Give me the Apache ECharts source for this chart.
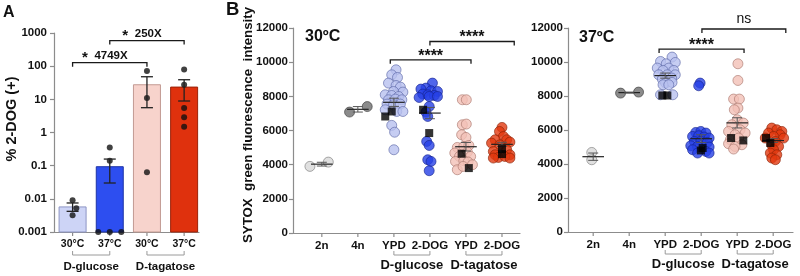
<!DOCTYPE html>
<html><head><meta charset="utf-8">
<script src="https://cdn.jsdelivr.net/npm/echarts@6/dist/echarts.min.js"></script>
<style>html,body{margin:0;padding:0;background:#fff}#c{width:800px;height:276px}</style>
</head><body><div id="c"></div>
<script>
// ---------- Panel A data ----------
const catsA = ['30°C', '37°C', '30°C', '37°C'];
const groupsA = [[1, 2, 'D-glucose'], [3, 4, 'D-tagatose']];
const barA = [0.0057, 0.093, 27.5, 23.4];
const errLowA = [0.0042, 0.030, 5.6, 8.9];
const errHighA = [0.0075, 0.158, 48, 39];
// [bar, x offset, value]
const dotsA = [[1, 0, 0.0091], [1, 0.1, 0.0052], [1, 0, 0.0032],
  [2, 0, 0.35], [2, 0, 0.14], [2, -0.31, 0.001], [2, 0, 0.001], [2, 0.31, 0.001],
  [3, 0, 71], [3, 0, 11], [3, 0, 0.063],
  [4, 0, 80], [4, 0, 27.5], [4, 0, 5.5], [4, 0, 2.9], [4, 0, 1.5]];
const bracketsA = [[1, 3, 127, '4749X'], [2, 4, 590, '250X']];

// ---------- Panel B data ----------
const catsB = ['2n', '4n', 'YPD', '2-DOG', 'YPD', '2-DOG'];
const groupsB = [[3, 4, 'D-glucose'], [5, 6, 'D-tagatose']];
// 30 °C : [x offset, value]
const g2n30 = [[-0.33, 3900], [0.18, 4150]];
const g4n30 = [[-0.23, 7080], [0.26, 7400]];
const ypdGlu30 = [[0.06, 9553], [-0.06, 9260], [0.1, 9103], [-0.15, 8775], [0.06, 8635], [0.18, 8541], [0.25, 8249], [-0.01, 8284], [-0.24, 8090], [-0.06, 8050], [0.13, 7991], [-0.15, 7798], [0.04, 7839], [0.22, 7798], [-0.19, 7546], [-0.01, 7506], [0.18, 7546], [-0.24, 7213], [0.08, 7114], [0.25, 7114], [-0.06, 6300], [0.02, 5900], [0, 4873]];
const dogGlu30 = [[0.07, 8775], [-0.11, 8483], [-0.25, 8424], [0.03, 8325], [0.21, 8284], [-0.2, 8132], [-0.06, 8090], [0.12, 8050], [-0.3, 7933], [-0.02, 7991], [0.21, 7991], [-0.02, 7406], [-0.11, 7078], [-0.06, 6821], [-0.09, 5360], [-0.02, 5125], [-0.06, 4288], [0.03, 4190], [-0.02, 3645]];
const ypdTag30 = [[-0.1, 7800], [0.01, 7800], [-0.1, 6335], [0.01, 6377], [-0.12, 5750], [0, 5594], [-0.24, 5008], [-0.06, 5066], [0.08, 5125], [-0.31, 4680], [0.04, 4740], [-0.18, 4480], [0.13, 4480], [-0.29, 4190], [-0.06, 4230], [0.06, 4153], [-0.24, 3703], [-0.08, 3896], [0.18, 3995]];
const dogTag30 = [[0, 6180], [-0.07, 5945], [0.04, 5650], [-0.19, 5458], [0.13, 5458], [-0.29, 5265], [0.22, 5323], [-0.06, 5165], [-0.24, 4773], [0.13, 4873], [-0.19, 4580], [0.22, 4580], [-0.1, 4422], [0.08, 4480], [0.22, 4387], [-0.24, 4387]];
const squares30 = [[3, -0.24, 6820], [3, -0.06, 7114], [4, -0.19, 7213], [4, -0.02, 5850], [5, -0.12, 4640], [5, 0.08, 3800], [6, 0, 4914], [6, 0, 4620]];
const mean30 = [4030, 7240, 7650, 7020, 5050, 5190];
const sem30 = [110, 160, 240, 330, 250, 120];
const brackets30 = [[2.9, 5.14, 10140, '****'], [4.0, 6.34, 11210, '****']];
// 37 °C
const g2n37 = [[-0.04, 4680], [-0.04, 4250]];
const g4n37 = [[-0.24, 8170], [0.26, 8230]];
const ypdGlu37 = [[-0.13, 10031], [0.19, 10290], [0.03, 9896], [0.28, 9973], [-0.22, 9643], [0.1, 9643], [-0.06, 9502], [0.24, 9502], [-0.18, 9249], [0.06, 9249], [0.28, 9249], [-0.08, 8996], [0.18, 9055], [0.01, 8761], [0.19, 8800], [-0.06, 8661], [0.1, 8661], [0.21, 8073], [-0.13, 8073]];
const dogGlu37 = [[-0.03, 8761], [-0.07, 8602], [-0.15, 5857], [-0.01, 5916], [0.13, 5821], [-0.24, 5621], [-0.07, 5662], [0.08, 5586], [0.22, 5527], [-0.19, 5327], [-0.01, 5327], [0.17, 5268], [-0.29, 5074], [-0.1, 5033], [0.22, 4998], [-0.24, 4839], [0.13, 4739], [-0.1, 4645], [0.22, 4645]];
const ypdTag37 = [[0.02, 9896], [0.02, 8914], [-0.1, 7820], [0.06, 7820], [0.02, 7291], [-0.08, 7191], [0, 6603], [-0.15, 6309], [0.17, 6409], [-0.24, 5915], [0.08, 6015], [-0.06, 5721], [0.22, 5821], [-0.19, 5427], [0.04, 5527], [-0.24, 5192], [0.13, 5133], [-0.06, 5033], [-0.1, 4880]];
const dogTag37 = [[-0.04, 6115], [0.1, 6015], [0.24, 5915], [-0.13, 5821], [0.19, 5721], [0.01, 5621], [-0.22, 5527], [0.29, 5527], [0.06, 5327], [-0.04, 5133], [0.15, 5033], [0.01, 4839], [-0.08, 4645], [0.1, 4545], [-0.04, 4351], [0.06, 4251]];
const squares37 = [[3, -0.08, 8032], [3, 0.06, 8032], [4, 0.04, 4939], [4, -0.01, 4798], [5, -0.17, 5527], [5, 0.17, 5386], [6, -0.2, 5527], [6, -0.08, 5233]];
const mean37 = [4430, 8200, 9200, 5490, 6420, 5380];
const sem37 = [215, 30, 150, 230, 300, 110];
const brackets37 = [[2.83, 5.19, 10760, '****'], [4.02, 6.35, 11940, 'ns']];

// ---------- styles ----------
const FONT = '"Liberation Sans", Arial, Helvetica, sans-serif';
const AXC = '#8c8c8c';
const barFill = ['#cdd4f6', '#2d4ef0', '#f7d3cc', '#df310d'];
const barStroke = ['#8d95c4', '#1d33a6', '#c29a92', '#9a2208'];
const ptFill = ['#d8d8d8', '#6e6e6e', '#b8c1ef', '#2540e6', '#f3c0b7', '#e2380f'];
const ptStroke = ['#7a7a7a', '#3c3c3c', '#5c66a6', '#16228c', '#a8766c', '#8a2307'];

const chart = echarts.init(document.getElementById('c'));

function catFormatter(cats) {
  return function (v) {
    const r = Math.round(v);
    return (Math.abs(v - r) < 1e-6 && r >= 1 && r <= cats.length) ? cats[r - 1] : '';
  };
}
function xAx(gi, min, max, cats, fs) {
  return {
    type: 'value', gridIndex: gi, min: min, max: max, interval: 0.1,
    axisLine: { show: true, onZero: false, lineStyle: { color: AXC, width: 1.2 } },
    axisTick: { show: false }, splitLine: { show: false },
    axisLabel: { formatter: catFormatter(cats), color: '#111', fontWeight: 'bold', fontSize: fs, fontFamily: FONT, margin: 7 }
  };
}
function yAxB(gi) {
  return {
    type: 'value', gridIndex: gi, min: 0, max: 12000, interval: 2000,
    axisLine: { show: true, lineStyle: { color: AXC, width: 1.2 } },
    axisTick: { show: true, length: 4, lineStyle: { color: AXC, width: 1.2 } },
    splitLine: { show: false },
    axisLabel: { color: '#111', fontWeight: 'bold', fontSize: 11.5, fontFamily: FONT, margin: 5, formatter: v => String(Math.round(v)) }
  };
}

function catTickSeries(ax, cats, yMin) {
  return {
    type: 'custom', xAxisIndex: ax, yAxisIndex: ax, clip: false, silent: true, z: 1,
    data: cats.map((c, i) => [i + 1, yMin]), encode: { x: 0, y: 1 },
    renderItem: function (params, api) {
      const p = api.coord([api.value(0), api.value(1)]);
      return { type: 'line', shape: { x1: p[0], y1: p[1], x2: p[0], y2: p[1] + 4 }, style: { stroke: AXC, lineWidth: 1.2 } };
    }
  };
}
function groupSeries(ax, groups, yMin, dy1, dy2, fs) {
  return {
    type: 'custom', xAxisIndex: ax, yAxisIndex: ax, clip: false, silent: true, z: 1,
    data: groups.map(g => [g[0], yMin]), encode: { x: 0, y: 1 },
    renderItem: function (params, api) {
      const g = groups[params.dataIndex];
      const p1 = api.coord([g[0], yMin]), p2 = api.coord([g[1], yMin]);
      const y = p1[1] + dy1;
      return { type: 'group', children: [
        { type: 'polyline', shape: { points: [[p1[0], y - 4], [p1[0], y], [p2[0], y], [p2[0], y - 4]] }, style: { stroke: '#9a9a9a', lineWidth: 1, fill: null } },
        { type: 'text', x: (p1[0] + p2[0]) / 2, y: p1[1] + dy2, style: { text: g[2], align: 'center', verticalAlign: 'middle', fontSize: fs, fontWeight: 'bold', fontFamily: FONT, fill: '#111' } }
      ] };
    }
  };
}
function bracketSeries(ax, list, rich) {
  return {
    type: 'custom', xAxisIndex: ax, yAxisIndex: ax, clip: false, silent: true, z: 5,
    data: list.map(b => [b[0], b[2]]), encode: { x: 0, y: 1 },
    renderItem: function (params, api) {
      const b = list[params.dataIndex];
      const p1 = api.coord([b[0], b[2]]), p2 = api.coord([b[1], b[2]]);
      const cx = (p1[0] + p2[0]) / 2;
      let txt;
      if (rich) {
        txt = { type: 'text', x: cx - 5, y: p1[1] - 7, style: { text: '{s|*}  {n|' + b[3] + '}', align: 'center', verticalAlign: 'middle',
          rich: { s: { fontSize: 15, fontWeight: 'bold', fontFamily: FONT, fill: '#111', padding: [5, 0, 0, 0] }, n: { fontSize: 11.5, fontWeight: 'bold', fontFamily: FONT, fill: '#111' } } } };
      } else {
        const ns = b[3] === 'ns';
        txt = { type: 'text', x: cx, y: p1[1] - (ns ? 9.5 : 3.5), style: { text: b[3], align: 'center', verticalAlign: 'middle', fontSize: ns ? 14 : 16, fontWeight: ns ? 'normal' : 'bold', fontFamily: FONT, fill: '#111' } };
      }
      return { type: 'group', children: [
        { type: 'polyline', shape: { points: [[p1[0], p1[1] + 4], [p1[0], p1[1]], [p2[0], p2[1]], [p2[0], p2[1] + 4]] }, style: { stroke: '#1a1a1a', lineWidth: 1.3, fill: null } },
        txt
      ] };
    }
  };
}
function meanSeries(ax, means, sems) {
  return {
    type: 'custom', xAxisIndex: ax, yAxisIndex: ax, clip: false, silent: true, z: 3,
    data: means.map((m, i) => [i + 1, m, sems[i]]), encode: { x: 0, y: 1 },
    renderItem: function (params, api) {
      const x = api.value(0), m = api.value(1), s = api.value(2);
      const a = api.coord([x - 0.3, m]), b = api.coord([x + 0.3, m]);
      const hi = api.coord([x, m + s]), lo = api.coord([x, m - s]);
      const cw = 5;
      return { type: 'group', children: [
        { type: 'line', shape: { x1: a[0], y1: a[1], x2: b[0], y2: b[1] }, style: { stroke: '#222', lineWidth: 1.2 } },
        { type: 'line', shape: { x1: hi[0], y1: hi[1], x2: lo[0], y2: lo[1] }, style: { stroke: '#555', lineWidth: 1 } },
        { type: 'line', shape: { x1: hi[0] - cw, y1: hi[1], x2: hi[0] + cw, y2: hi[1] }, style: { stroke: '#555', lineWidth: 1 } },
        { type: 'line', shape: { x1: lo[0] - cw, y1: lo[1], x2: lo[0] + cw, y2: lo[1] }, style: { stroke: '#555', lineWidth: 1 } }
      ] };
    }
  };
}
function panelB(ax, groups, squares, means, sems, brackets) {
  const s = [];
  groups.forEach((g, i) => {
    s.push({ type: 'scatter', xAxisIndex: ax, yAxisIndex: ax, clip: false, silent: true, z: 2,
      symbol: 'circle', symbolSize: 10,
      itemStyle: { color: ptFill[i], borderColor: ptStroke[i], borderWidth: 0.8 },
      data: g.map(p => [i + 1 + p[0], p[1]]) });
  });
  s.push(meanSeries(ax, means, sems));
  s.push({ type: 'scatter', xAxisIndex: ax, yAxisIndex: ax, clip: false, silent: true, z: 4,
    symbol: 'rect', symbolSize: 8, itemStyle: { color: '#000' },
    data: squares.map(q => [q[0] + q[1], q[2]]) });
  s.push(bracketSeries(ax, brackets, false));
  s.push(catTickSeries(ax, catsB, 0));
  s.push(groupSeries(ax, groupsB, 0, 22, 32, 13));
  return s;
}

const series = [
  { type: 'custom', xAxisIndex: 0, yAxisIndex: 0, clip: false, silent: true, z: 2,
    data: barA.map((v, i) => [i + 1, v]), encode: { x: 0, y: 1 },
    renderItem: function (params, api) {
      const i = params.dataIndex, x = api.value(0), v = api.value(1);
      const t = api.coord([x - 0.363, v]), b = api.coord([x + 0.363, 0.001]);
      return { type: 'rect', shape: { x: t[0], y: t[1], width: b[0] - t[0], height: b[1] - t[1] },
        style: { fill: barFill[i], stroke: barStroke[i], lineWidth: 1 } };
    } },
  { type: 'scatter', xAxisIndex: 0, yAxisIndex: 0, clip: false, silent: true, z: 3,
    symbol: 'circle', symbolSize: 6, itemStyle: { color: '#111' },
    data: dotsA.map(d => [d[0] + d[1], d[2]]) },
  { type: 'custom', xAxisIndex: 0, yAxisIndex: 0, clip: false, silent: true, z: 4,
    data: barA.map((v, i) => [i + 1, errLowA[i], errHighA[i]]), encode: { x: 0, y: [1, 2] },
    renderItem: function (params, api) {
      const x = api.value(0);
      const lo = api.coord([x, api.value(1)]), hi = api.coord([x, api.value(2)]);
      const cw = 6, st = { stroke: '#222', lineWidth: 1.3 };
      return { type: 'group', children: [
        { type: 'line', shape: { x1: lo[0], y1: lo[1], x2: hi[0], y2: hi[1] }, style: st },
        { type: 'line', shape: { x1: lo[0] - cw, y1: lo[1], x2: lo[0] + cw, y2: lo[1] }, style: st },
        { type: 'line', shape: { x1: hi[0] - cw, y1: hi[1], x2: hi[0] + cw, y2: hi[1] }, style: st }
      ] };
    } },
  bracketSeries(0, bracketsA, true),
  catTickSeries(0, catsA, 0.001),
  groupSeries(0, groupsA, 0.001, 23, 35, 11.5)
].concat(
  panelB(1, [g2n30, g4n30, ypdGlu30, dogGlu30, ypdTag30, dogTag30], squares30, mean30, sem30, brackets30),
  panelB(2, [g2n37, g4n37, ypdGlu37, dogGlu37, ypdTag37, dogTag37], squares37, mean37, sem37, brackets37)
);

chart.setOption({
  animation: false,
  backgroundColor: '#fff',
  grid: [
    { left: 54, top: 33, width: 145, height: 199 },
    { left: 293, top: 28, width: 227, height: 205 },
    { left: 568, top: 28, width: 225, height: 204 }
  ],
  xAxis: [xAx(0, 0.5, 4.4, catsA, 10.5), xAx(1, 0.2, 6.5, catsB, 11.5), xAx(2, 0.3, 6.55, catsB, 11.5)],
  yAxis: [
    { type: 'log', logBase: 10, gridIndex: 0, min: 0.001, max: 1000, interval: 1, splitNumber: 6,
      axisLine: { show: true, lineStyle: { color: AXC, width: 1.2 } },
      axisTick: { show: true, length: 4, lineStyle: { color: AXC, width: 1.2 } },
      splitLine: { show: false },
      axisLabel: { color: '#111', fontWeight: 'bold', fontSize: 11.5, fontFamily: FONT, margin: 7,
        formatter: v => v >= 1 ? String(Math.round(v)) : String(parseFloat(Number(v).toPrecision(1))) } },
    yAxB(1), yAxB(2)
  ],
  graphic: [
    { type: 'text', x: 3, y: 12.5, style: { text: 'A', fontSize: 16, fontWeight: 'bold', fontFamily: FONT, fill: '#111', verticalAlign: 'middle' } },
    { type: 'text', x: 226, y: 10, style: { text: 'B', fontSize: 18.5, fontWeight: 'bold', fontFamily: FONT, fill: '#111', verticalAlign: 'middle' } },
    { type: 'text', x: 305, y: 37, style: { text: '30ºC', fontSize: 16, fontWeight: 'bold', fontFamily: FONT, fill: '#111', verticalAlign: 'middle' } },
    { type: 'text', x: 579, y: 37.5, style: { text: '37ºC', fontSize: 16, fontWeight: 'bold', fontFamily: FONT, fill: '#111', verticalAlign: 'middle' } },
    { type: 'text', x: 12, y: 119, rotation: Math.PI / 2, style: { text: '% 2-DOG (+)', fontSize: 14.5, fontWeight: 'bold', fontFamily: FONT, fill: '#111', align: 'center', verticalAlign: 'middle' } },
    { type: 'text', x: 248, y: 125, rotation: Math.PI / 2, style: { text: 'SYTOX  green fluorescence  intensity', fontSize: 13.3, fontWeight: 'bold', fontFamily: FONT, fill: '#111', align: 'center', verticalAlign: 'middle' } }
  ],
  series: series
});
</script>
</body></html>
